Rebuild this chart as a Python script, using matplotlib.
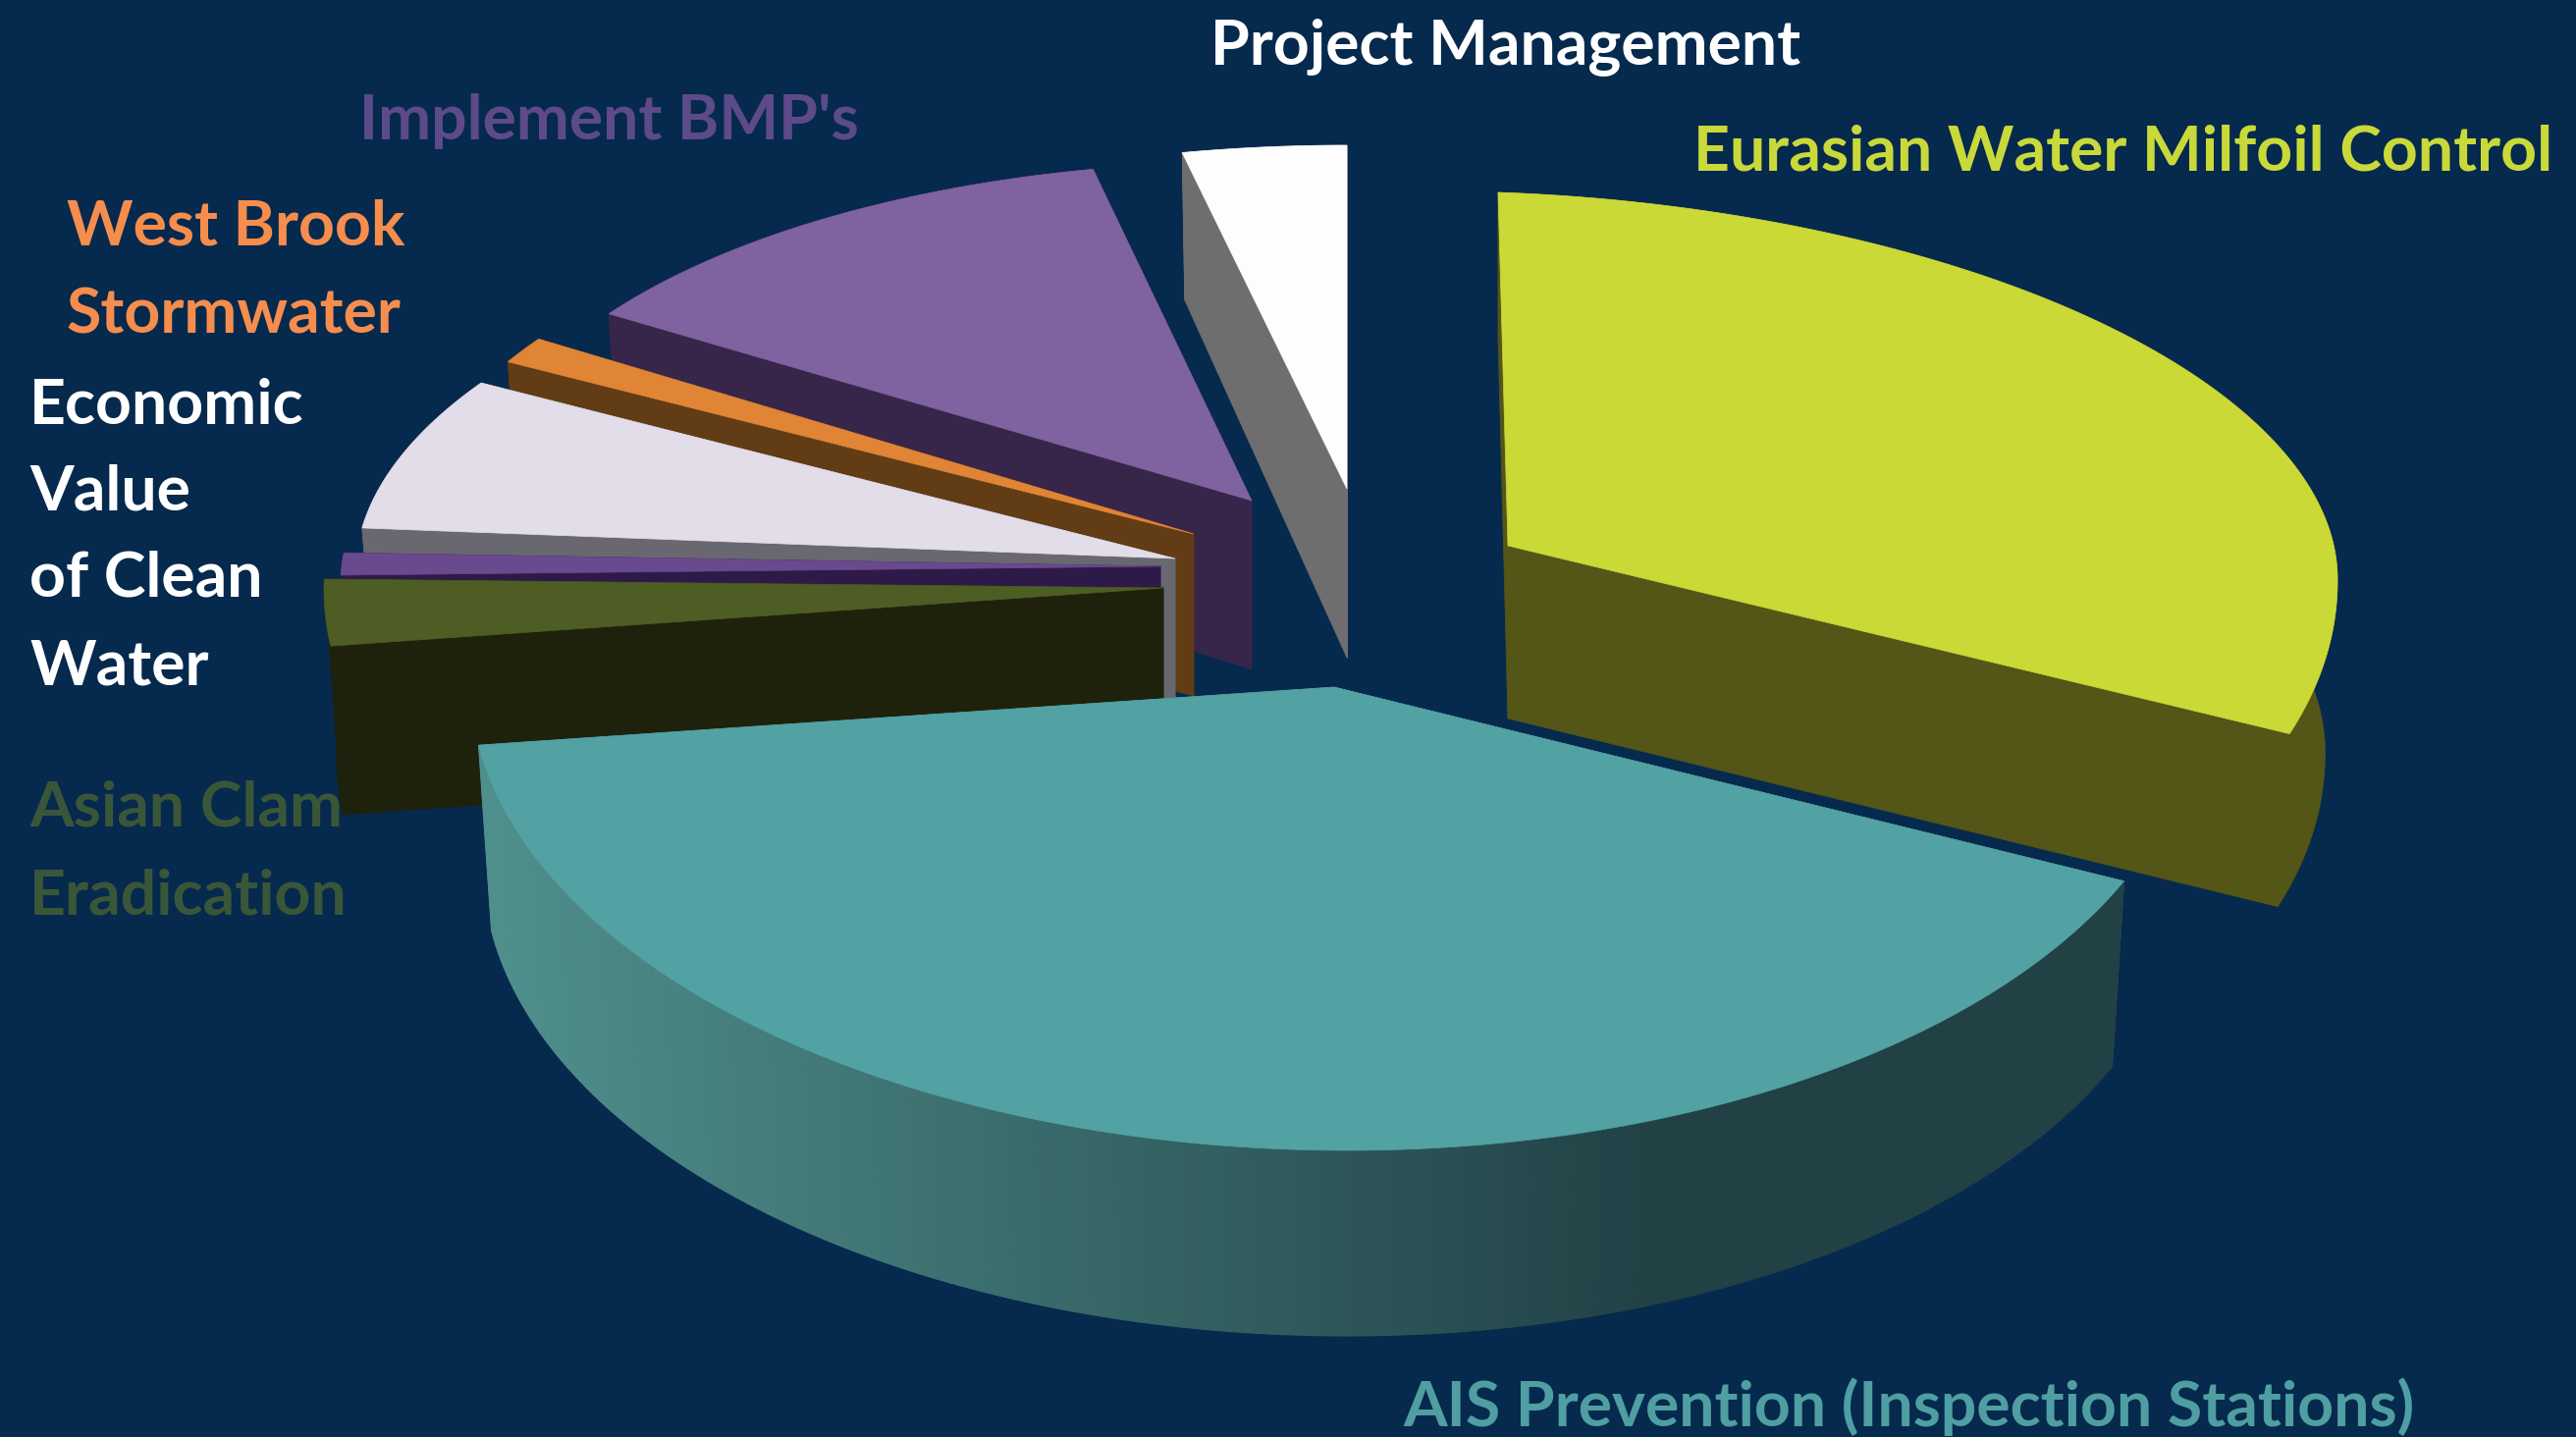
import numpy as np
import matplotlib
matplotlib.use("Agg")
import matplotlib.pyplot as plt
from matplotlib.colors import to_rgb
from matplotlib.patches import Polygon

# clockwise from 12 o'clock
categories = ["Eurasian Water Milfoil Control", "AIS Prevention (Inspection Stations)",
              "Asian Clam Eradication", "Other", "Economic Value of Clean Water",
              "West Brook Stormwater", "Implement BMP's", "Project Management"]
shares = [31.6, 41.4, 2.4, 1.0, 6.7, 1.2, 12.4, 3.3]

top_colors = ["#cbd936", "#52a2a4", "#4e5d24", "#694a8e", "#e2dde9", "#e08436", "#7f62a0", "#fdfdfd"]
wall_colors = ["#535617", "#3d7274", "#1e220c", "#2e1a49", "#69676f", "#623c14", "#38254a", "#6e6e6e"]

# where each slice's point sits, pixels from the pie centre
explode_x = [171, -6, -180, -183, -168, -149, -90, 7]
explode_y = [-49, 95, -6, -28, -36, -61, -95, -107]
# slice depth and radius tweaks, the source pie has perspective
depths = [176, 189, 172, 150, 160, 165, 172, 172]
radius_x = [845, 880, 855, 835, 835, 800, 785, 815]
radius_back = [360, 360, 360, 360, 360, 360, 345, 350]
radius_front = 472
shear_x = [-10, -13, 0, 0, 0, 0, 0, 0]
shear_y = [30, 0, 0, -18, -15, 0, 0, 0]
# degrees, rim ends drawn a bit off the share angle
start_tweak = [0, -1.0, 0, 0, -2.3, 0, 0, 0]
end_tweak = [3.5, 0, 0, 0, -3.0, 0, 0, 0]
center = (1365, 605)

# text, left, baseline of each line, colour
labels = [("Project Management", 1233, [65], "#ffffff"),
          ("Implement BMP's", 366, [142], "#5d4a89"),
          ("West Brook\nStormwater", 68, [250, 339], "#f58d4d"),
          ("Economic\nValue\nof Clean\nWater", 30, [432, 519, 608, 697], "#ffffff"),
          ("Asian Clam\nEradication", 30, [842, 931], "#3a5638"),
          ("Eurasian Water Milfoil Control", 1725, [174], "#c9d93a"),
          ("AIS Prevention (Inspection Stations)", 1429, [1453], "#4f9ea2")]
plt.rcParams["font.family"] = ["Lato", "DejaVu Sans"]

BG = "#06294e"
fig = plt.figure(figsize=(26.24, 14.64), dpi=100, facecolor=BG)
ax = fig.add_axes([0, 0, 1, 1])
ax.set_xlim(0, 2624)
ax.set_ylim(1464, 0)
ax.axis("off")


def rim(theta, ax_i, ay, i):
    s = np.sin(theta)
    c = np.cos(theta)
    x = ax_i + radius_x[i] * c + shear_x[i] * s
    y = ay - np.where(s > 0, radius_back[i], radius_front) * s + shear_y[i] * c
    return x, y


def bottom(x, y, ax_i, depth, theta):
    # rim sits a bit higher at the back than at the front
    return ax_i + (x - ax_i) * 0.985, y + depth * (1 - 0.13 * np.clip(np.sin(theta), 0, 1))


def wall_shade(x):
    # front wall of the big slice fades from left to right
    left = np.array(to_rgb("#4f8f8c"))
    right = np.array(to_rgb("#214145"))
    t = np.clip((x - 500) / (1700 - 500), 0, 1)
    return tuple(left + (right - left) * t)


# start angle of each slice
fractions = np.array(shares) / sum(shares)
ends = np.pi / 2 - np.cumsum(fractions) * 2 * np.pi
starts = ends + fractions * 2 * np.pi

# back to front
order = [6, 7, 5, 4, 3, 2, 0, 1]
for i in order:
    apex_x = center[0] + explode_x[i]
    apex_y = center[1] + explode_y[i]
    th = np.linspace(starts[i] + np.radians(start_tweak[i]), ends[i] + np.radians(end_tweak[i]), 160)
    x, y = rim(th, apex_x, apex_y, i)
    bx, by = bottom(x, y, apex_x, depths[i], th)
    apex_bottom = (apex_x, apex_y + depths[i])
    wall = wall_colors[i]

    # radial walls
    for k in (0, -1):
        ax.add_patch(Polygon([(apex_x, apex_y), (x[k], y[k]), (bx[k], by[k]), apex_bottom],
                             closed=True, fc=wall, ec=wall, lw=0.5))
    # outer wall
    if i == 1:
        for k in range(len(th) - 1):
            c = wall_shade(x[k])
            ax.add_patch(Polygon([(x[k], y[k]), (x[k + 1], y[k + 1]), (bx[k + 1], by[k + 1]), (bx[k], by[k])],
                                 closed=True, fc=c, ec=c, lw=0.8))
    else:
        ax.add_patch(Polygon(np.r_[np.c_[x, y], np.c_[bx, by][::-1]],
                             closed=True, fc=wall, ec=wall, lw=0.5))
    # top face
    ax.add_patch(Polygon(np.r_[[(apex_x, apex_y)], np.c_[x, y]], closed=True,
                         fc=top_colors[i], ec=top_colors[i], lw=0.5))

for text, x, baselines, color in labels:
    for line, y in zip(text.split("\n"), baselines):
        ax.text(x, y, line, color=color, fontsize=46.4, fontweight="bold", ha="left", va="baseline")

fig.savefig("out.png", dpi=100, facecolor=BG)
